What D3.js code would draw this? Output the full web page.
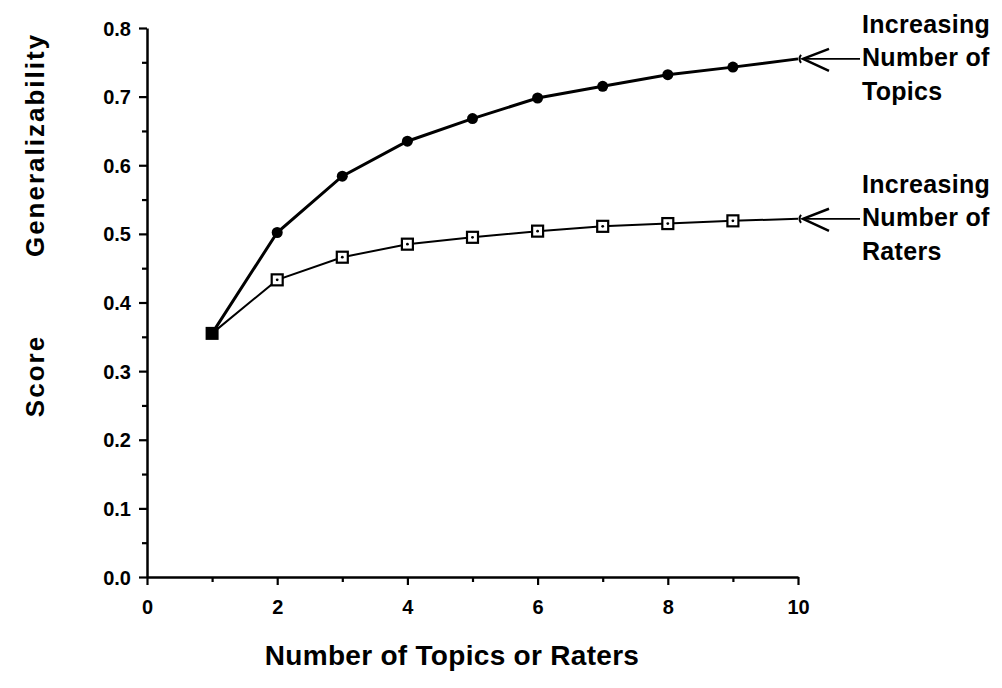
<!DOCTYPE html>
<html>
<head>
<meta charset="utf-8">
<title>Score Generalizability</title>
<script src="https://d3js.org/d3.v7.min.js"></script>
<style>
  body { margin: 0; background: #fff; }
  text { font-family: "Liberation Sans", Arial, sans-serif; font-weight: bold; fill: #000; }
  .tick text { font-size: 20px; }
</style>
</head>
<body>
<script>
// data
var counts = [1, 2, 3, 4, 5, 6, 7, 8, 9, 10];
var topics = [0.355, 0.502, 0.584, 0.635, 0.668, 0.698, 0.715, 0.732, 0.743, 0.755];
var raters = [0.355, 0.433, 0.466, 0.485, 0.495, 0.504, 0.511, 0.515, 0.519, 0.522];
var xMajor = [0, 2, 4, 6, 8, 10];
var xMinor = [1, 3, 5, 7, 9];
var yMajor = [0, 0.1, 0.2, 0.3, 0.4, 0.5, 0.6, 0.7, 0.8];
var yMinor = [0.05, 0.15, 0.25, 0.35, 0.45, 0.55, 0.65, 0.75];
var notes = [
  { series: topics, lines: ["Increasing", "Number of", "Topics"] },
  { series: raters, lines: ["Increasing", "Number of", "Raters"] }
];

var w = 1002, h = 688;
var svg = d3.select("body").append("svg").attr("width", w).attr("height", h);

var x = d3.scaleLinear().domain([0, 10]).range([147, 798]);
var y = d3.scaleLinear().domain([0, 0.8]).range([577, 28]);

// axes
var gx = svg.append("g").attr("transform", "translate(0," + y(0) + ")");
gx.call(d3.axisBottom(x).tickValues(xMajor).tickSize(8).tickSizeOuter(0).tickFormat(d3.format("d")));
gx.append("g").call(d3.axisBottom(x).tickValues(xMinor).tickSize(5).tickFormat(""))
  .select(".domain").remove();

var gy = svg.append("g").attr("transform", "translate(" + x(0) + ",0)");
gy.call(d3.axisLeft(y).tickValues(yMajor).tickSize(8).tickSizeOuter(0).tickFormat(d3.format(".1f")));
gy.append("g").call(d3.axisLeft(y).tickValues(yMinor).tickSize(5).tickFormat(""))
  .select(".domain").remove();

svg.selectAll(".domain").attr("stroke-width", 2.5);
svg.selectAll(".tick line").attr("stroke-width", 2.2);
gx.selectAll(".tick text").attr("dy", "1.3em");
gy.selectAll(".tick text").attr("dx", "-0.25em").attr("dy", "0.35em");

// axis titles
svg.append("text").attr("x", 452).attr("y", 665).attr("text-anchor", "middle")
  .attr("font-size", 28).attr("letter-spacing", 0.3).text("Number of Topics or Raters");
svg.append("text").attr("transform", "translate(44,145) rotate(-90)")
  .attr("text-anchor", "middle").attr("font-size", 26).attr("letter-spacing", 2)
  .text("Generalizability");
svg.append("text").attr("transform", "translate(44,376) rotate(-90)")
  .attr("text-anchor", "middle").attr("font-size", 26).attr("letter-spacing", 2)
  .text("Score");

// lines
var line = d3.line()
  .x(function (d, i) { return x(counts[i]); })
  .y(function (d) { return y(d); });

svg.append("path").datum(raters).attr("d", line)
  .attr("fill", "none").attr("stroke", "#000").attr("stroke-width", 2);
svg.append("path").datum(topics).attr("d", line)
  .attr("fill", "none").attr("stroke", "#000").attr("stroke-width", 3);

// rater markers: open squares with a dot
var rm = svg.selectAll(".rater").data(raters.slice(1, 9)).enter().append("g")
  .attr("transform", function (d, i) { return "translate(" + x(counts[i + 1]) + "," + y(d) + ")"; });
rm.append("rect").attr("x", -5.5).attr("y", -5.5).attr("width", 11).attr("height", 11)
  .attr("fill", "#fff").attr("stroke", "#000").attr("stroke-width", 2.2);
rm.append("circle").attr("r", 1.4).attr("fill", "#000");

// topic markers: filled dots
svg.selectAll(".topic").data(topics.slice(1, 9)).enter().append("circle")
  .attr("cx", function (d, i) { return x(counts[i + 1]); })
  .attr("cy", function (d) { return y(d); })
  .attr("r", 5.5).attr("fill", "#000");

// shared first point
svg.append("rect")
  .attr("x", x(counts[0]) - 6.5).attr("y", y(topics[0]) - 6.5)
  .attr("width", 13).attr("height", 13).attr("fill", "#000");

// arrows and notes at the right end
notes.forEach(function (n) {
  var px = x(counts[counts.length - 1]);
  var py = y(n.series[n.series.length - 1]);
  var g = svg.append("g").attr("transform", "translate(" + px + "," + py + ")");
  g.append("path").attr("d", "M3,-4 Q0,0 3,4")
    .attr("fill", "none").attr("stroke", "#000").attr("stroke-width", 2);
  g.append("path").attr("d", "M31,-10 L5,0 L31,12")
    .attr("fill", "none").attr("stroke", "#000").attr("stroke-width", 2.5);
  g.append("line").attr("x1", 5).attr("y1", 0).attr("x2", 62).attr("y2", 0)
    .attr("stroke", "#000").attr("stroke-width", 1.8);
  g.selectAll("text").data(n.lines).enter().append("text")
    .attr("x", 64).attr("y", function (d, i) { return -26 + i * 33.5; })
    .attr("font-size", 25).attr("letter-spacing", 0.3)
    .text(function (d) { return d; });
});
</script>
</body>
</html>
